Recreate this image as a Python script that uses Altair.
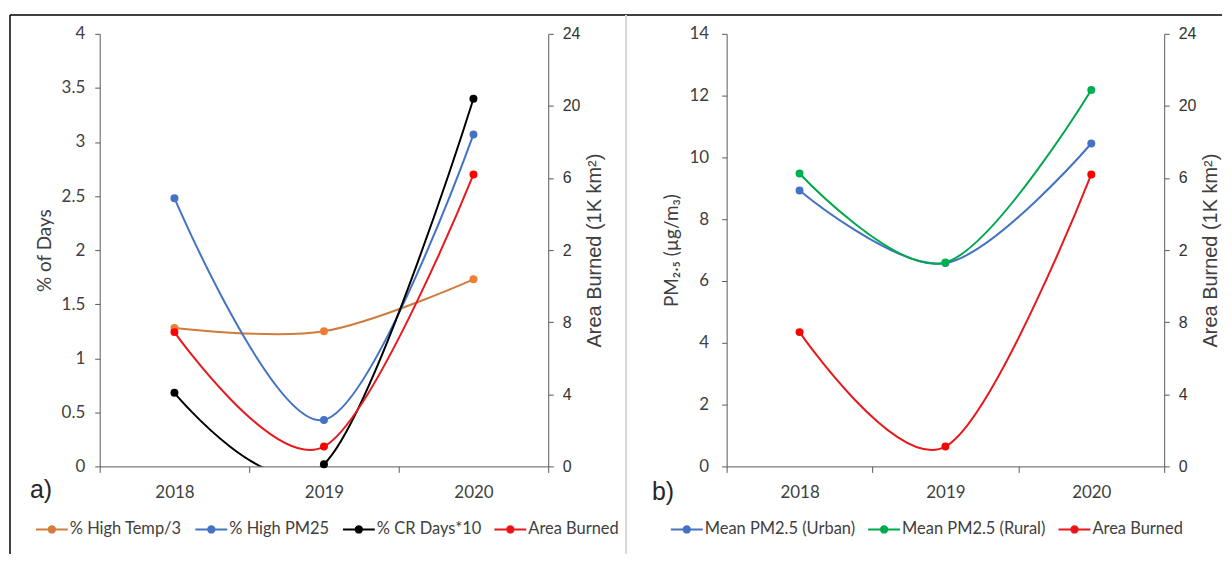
import altair as alt
import pandas as pd

# ---- data ----
years = [2018, 2019, 2020]
high_temp_3 = [1.28, 1.25, 1.73]
high_pm25 = [2.48, 0.43, 3.07]
cr_days_10 = [0.68, 0.02, 3.40]
area_burned = [7.45, 1.10, 16.20]
pm_urban = [8.93, 6.58, 10.45]
pm_rural = [9.48, 6.60, 12.18]

left_names = ["% High Temp/3", "% High PM25", "% CR Days*10", "Area Burned"]
left_fill = ["#ED7D31", "#4472C4", "#000000", "#FF0000"]
left_line = ["#D07C3A", "#4472C4", "#000000", "#E8191C"]
right_names = ["Mean PM2.5 (Urban)", "Mean PM2.5 (Rural)", "Area Burned"]
right_fill = ["#4472C4", "#00B050", "#FF0000"]
right_line = ["#4472C4", "#00A84C", "#E8191C"]

area_ticks = [0, 4, 8, 12, 16, 20, 24]
area_label_expr = "datum.value == 12 ? '2' : datum.value == 16 ? '6' : datum.label"


def long_df(names, series_list):
    rows = []
    for n, s in zip(names, series_list):
        for y, v in zip(years, s):
            rows.append({"series": n, "year": y, "value": v})
    return pd.DataFrame(rows)


df_left = long_df(left_names[:3], [high_temp_3, high_pm25, cr_days_10])
df_left_area = long_df(left_names[3:], [area_burned])
df_right = long_df(right_names[:2], [pm_urban, pm_rural])
df_right_area = long_df(right_names[2:], [area_burned])
one = pd.DataFrame({"k": [1]})

AX = "#595959"
LBL = "#404040"
CAL = "Lato"
ARIAL = "Liberation Sans"
SYMBOL = "M-1,0L1,0M0.2,0A0.2,0.2,0,1,1,-0.2,0A0.2,0.2,0,1,1,0.2,0Z"


def x_enc():
    return alt.X(
        "year:O",
        scale=alt.Scale(type="band", paddingInner=0, paddingOuter=0),
        axis=alt.Axis(title=None, labelAngle=0, tickBand="extent", tickSize=6,
                      labelPadding=12, labelFont=CAL, labelFontSize=17,
                      labelColor=LBL, domainColor=AX, tickColor=AX),
    )


def legend(lx):
    return alt.Legend(title=None, orient="none", legendX=lx, legendY=480,
                      direction="horizontal", symbolType=SYMBOL, symbolSize=1024,
                      symbolStrokeWidth=2, labelFont=CAL, labelFontSize=16.5,
                      labelColor=LBL, labelOffset=1, columnPadding=9, padding=0)


def series_layers(df, names, fills, strokes, y, lx):
    stroke = alt.Stroke("series:N", scale=alt.Scale(domain=names, range=strokes), legend=legend(lx))
    fill = alt.Fill("series:N", scale=alt.Scale(domain=names, range=fills), legend=legend(lx))
    lines = alt.Chart(df).mark_line(interpolate="cardinal", strokeWidth=2, clip=True).encode(
        x=x_enc(), y=y, stroke=stroke)
    pts = alt.Chart(df).mark_point(filled=True, size=64, opacity=1).encode(
        x=x_enc(), y=y, fill=fill)
    return alt.layer(lines, pts)


def area_y():
    return alt.Y("value:Q", scale=alt.Scale(domain=[0, 24]),
                 axis=alt.Axis(orient="right", values=area_ticks, labelExpr=area_label_expr,
                               title="Area Burned (1K km²)", titleFont=ARIAL, titleFontSize=20,
                               titleFontWeight="normal", titleColor=LBL, titlePadding=5,
                               titleAngle=270, titleBaseline="top",
                               labelFont=ARIAL, labelFontSize=16, labelColor="#333333",
                               labelPadding=9, tickSize=5, grid=False,
                               domainColor=AX, tickColor=AX))


def deco(letter, lx, ly, left_x, top_rule_x2, divider_x, left_border):
    layers = []
    if left_border:
        layers.append(alt.Chart(one).mark_rule(color="#000000", strokeWidth=1.5).encode(
            x=alt.value(left_x), y=alt.value(-19), y2=alt.value(522)))
        layers.append(alt.Chart(one).mark_rule(color="#000000", strokeWidth=1.5).encode(
            x=alt.value(left_x), x2=alt.value(top_rule_x2), y=alt.value(-19)))
        layers.append(alt.Chart(one).mark_rule(color="#D9D9D9", strokeWidth=2).encode(
            x=alt.value(divider_x), y=alt.value(-19), y2=alt.value(522)))
    layers.append(alt.Chart(one).mark_text(font=ARIAL, fontSize=25, align="left",
                                           baseline="alphabetic", color="#262626").encode(
        x=alt.value(lx), y=alt.value(ly), text=alt.value(letter)))
    return layers


# ---- left panel ----
left_y = alt.Y("value:Q", scale=alt.Scale(domain=[0, 4]),
               axis=alt.Axis(orient="left", values=[0, 0.5, 1, 1.5, 2, 2.5, 3, 3.5, 4],
                             format=".1~f", title="% of Days", titleFont=CAL, titleFontSize=19,
                             titleFontWeight="normal", titleColor=LBL, titlePadding=7,
                             labelFont=CAL, labelFontSize=17, labelColor=LBL, labelPadding=10,
                             tickSize=5, grid=False, domainColor=AX, tickColor=AX))

left_main = series_layers(df_left, left_names, left_fill, left_line, left_y, -65)
left_area = series_layers(df_left_area, left_names, left_fill, left_line, area_y(), -65)
left_panel = alt.layer(
    left_main, left_area,
    *deco("a)", -70, 466, -90, 1126, 528, True)
).resolve_scale(y="independent").properties(width=450, height=434)

# ---- right panel ----
right_y = alt.Y("value:Q", scale=alt.Scale(domain=[0, 14]),
                axis=alt.Axis(orient="left", values=[0, 2, 4, 6, 8, 10, 12, 14],
                              title="PM₂.₅ (µg/m₃)", titleFont=CAL, titleFontSize=19,
                              titleFontWeight="normal", titleColor=LBL, titlePadding=8,
                              labelFont=CAL, labelFontSize=17, labelColor=LBL, labelPadding=13,
                              tickSize=5, grid=False, domainColor=AX, tickColor=AX))

right_main = series_layers(df_right, right_names, right_fill, right_line, right_y, -57)
right_area = series_layers(df_right_area, right_names, right_fill, right_line, area_y(), -57)
right_panel = alt.layer(
    right_main, right_area,
    *deco("b)", -75, 468, 0, 0, 0, False)
).resolve_scale(y="independent").properties(width=439, height=434)

chart = alt.hconcat(left_panel, right_panel, spacing=179, bounds="flush").resolve_scale(
    fill="independent", stroke="independent"
).properties(
    padding={"left": 0, "top": 4, "right": 0, "bottom": 0}
).configure_view(stroke="transparent").configure_axis(grid=False)

chart.save("out.html", embed_options={"renderer": "svg", "actions": False})
